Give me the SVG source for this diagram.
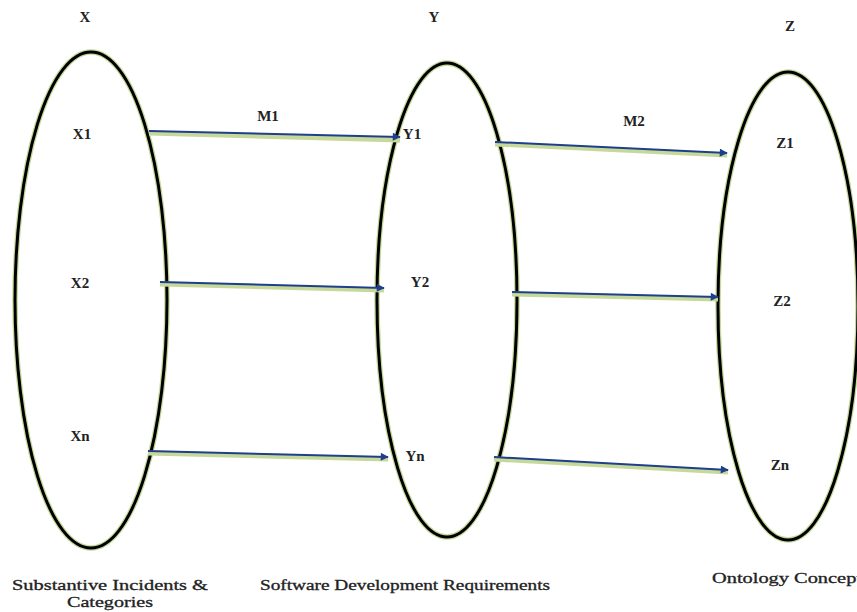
<svg xmlns="http://www.w3.org/2000/svg" width="857" height="612" viewBox="0 0 857 612">
<style>
.halo{fill:none;stroke:#c6d99a;stroke-width:5.5}
.ell{fill:none;stroke:#000;stroke-width:3}
.lbl{font-family:"Liberation Serif",serif;font-weight:bold;font-size:15px;fill:#222}
.cap{font-family:"Liberation Serif",serif;font-size:14px;fill:#222;stroke:#222;stroke-width:0.3}
.sh{stroke:#c6d99a;stroke-width:5;fill:none}
.ar{stroke:#1f3f8c;stroke-width:2;fill:none;marker-end:url(#ah)}
</style>
<defs>
<marker id="ah" viewBox="0 0 10 10" refX="9" refY="5" markerWidth="10" markerHeight="8" orient="auto" markerUnits="userSpaceOnUse">
<path d="M0,0 L10,5 L0,10 z" fill="#1f3f8c"/>
</marker>
</defs>
<g id="nodeX">
<ellipse class="halo" cx="91" cy="300" rx="76" ry="248"/>
<ellipse class="ell" cx="91" cy="300" rx="76" ry="248"/>
<text class="lbl" x="85" y="22" text-anchor="middle">X</text>
<text class="lbl" x="82" y="139" text-anchor="middle">X1</text>
<text class="lbl" x="80" y="288" text-anchor="middle">X2</text>
<text class="lbl" x="80" y="441" text-anchor="middle">Xn</text>
</g>
<g id="nodeY">
<ellipse class="halo" cx="447" cy="300" rx="70" ry="237"/>
<ellipse class="ell" cx="447" cy="300" rx="70" ry="237"/>
<text class="lbl" x="434" y="22" text-anchor="middle">Y</text>
<text class="lbl" x="412" y="139" text-anchor="middle">Y1</text>
<text class="lbl" x="420" y="287" text-anchor="middle">Y2</text>
<text class="lbl" x="415" y="461" text-anchor="middle">Yn</text>
</g>
<g id="nodeZ">
<ellipse class="halo" cx="788" cy="306" rx="70" ry="234"/>
<ellipse class="ell" cx="788" cy="306" rx="70" ry="234"/>
<text class="lbl" x="790" y="31" text-anchor="middle">Z</text>
<text class="lbl" x="785" y="148" text-anchor="middle">Z1</text>
<text class="lbl" x="782" y="306" text-anchor="middle">Z2</text>
<text class="lbl" x="780" y="470" text-anchor="middle">Zn</text>
</g>
<g id="connectors">
<path class="sh" d="M149,133 L400,140"/>
<path class="ar" d="M149,131 L400,137"/>
<path class="sh" d="M160,284 L384,290"/>
<path class="ar" d="M160,282 L384,288"/>
<path class="sh" d="M148,453 L388,459"/>
<path class="ar" d="M148,451 L388,457"/>
<path class="sh" d="M495,144 L727,155"/>
<path class="ar" d="M495,142 L727,153"/>
<path class="sh" d="M512,294 L718,299"/>
<path class="ar" d="M512,292 L718,297"/>
<path class="sh" d="M494,459 L728,472"/>
<path class="ar" d="M494,457 L728,470"/>
<text class="lbl" x="268" y="121" text-anchor="middle">M1</text>
<text class="lbl" x="634" y="126" text-anchor="middle">M2</text>
</g>
<g id="captions">
<text class="cap" x="110" y="590" text-anchor="middle" textLength="196" lengthAdjust="spacingAndGlyphs">Substantive Incidents &amp;</text>
<text class="cap" x="110" y="607" text-anchor="middle" textLength="86" lengthAdjust="spacingAndGlyphs">Categories</text>
<text class="cap" x="405" y="590" text-anchor="middle" textLength="290" lengthAdjust="spacingAndGlyphs">Software Development Requirements</text>
<text class="cap" x="712" y="583" textLength="150" lengthAdjust="spacingAndGlyphs">Ontology Concept</text>
</g>
</svg>
